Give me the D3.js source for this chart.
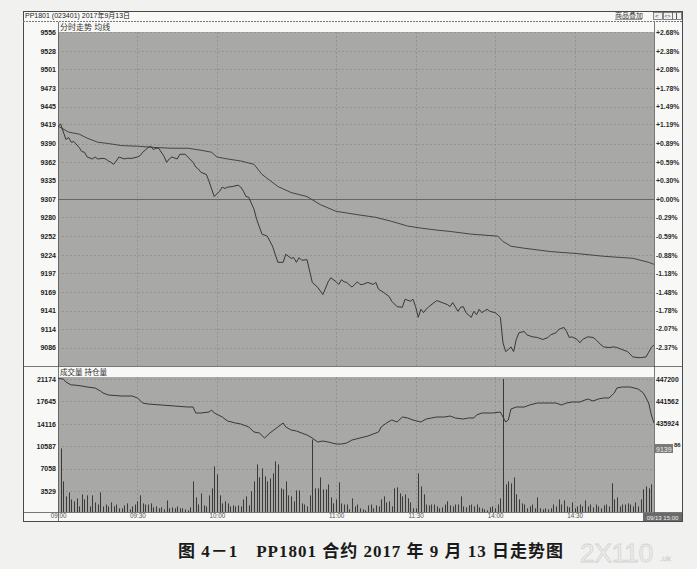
<!DOCTYPE html>
<html><head><meta charset="utf-8">
<script src="https://cdn.jsdelivr.net/npm/d3@7"></script>
<style>body{margin:0;background:#f1f1ef;} svg{display:block}</style>
</head><body><svg id="c" width="697" height="569"></svg>
<script>
// ---------------- DATA ----------------
const headerTitle = "PP1801 (023401) 2017年9月13日";
const priceTicks = [9556, 9528, 9501, 9473, 9445, 9419, 9390, 9362, 9335, 9307, 9280, 9252, 9224, 9197, 9169, 9141, 9114, 9086];
const pctLabels = ["+2.68%","+2.38%","+2.08%","+1.78%","+1.49%","+1.19%","+0.89%","+0.59%","+0.30%","+0.00%","-0.29%","-0.59%","-0.88%","-1.18%","-1.48%","-1.78%","-2.07%","-2.37%"];
const volTicks = [21174, 17645, 14116, 10587, 7058, 3529];
const oiTicks = [447200, 441562, 435924, 430286];
const timeLabels = ["09:00","09:30","10:00","11:00","11:30","14:00","14:30"];
const cursorValue = "9139";

// trading minutes since 09:00 open (sessions 09:00-10:15, 10:30-11:30, 13:30-15:00)
const priceMinute = [0,1,3,4,5,6,8,9,10,11,13,14,15,17,18,19,20,21,22,23,25,26,28,30,31,32,34,35,36,37,38,40,41,42,43,45,46,48,49,51,52,53,54,56,57,58,59,61,62,63,64,66,68,69,70,71,72,74,75,77,79,81,83,85,86,88,89,90,91,92,94,96,98,100,102,103,105,106,107,108,109,111,113,114,115,117,119,120,121,123,125,126,128,130,131,133,134,135,136,137,138,139,140,142,143,145,147,148,149,151,152,153,154,156,157,158,159,160,162,163,165,166,167,168,169,170,171,172,173,174,176,177,179,181,183,185,186,188,189,191,192,193,194,196,197,198,200,202,203,205,206,208,210,211,213,215,217,219,220,222,223,224,225];
const priceValue = [9416,9419,9396,9399,9392,9393,9384,9378,9377,9370,9367,9370,9367,9368,9367,9364,9362,9359,9364,9370,9367,9368,9368,9370,9372,9377,9384,9386,9381,9383,9383,9371,9362,9367,9370,9367,9374,9374,9370,9362,9355,9352,9347,9344,9334,9322,9311,9319,9325,9323,9325,9326,9328,9325,9319,9311,9310,9292,9277,9255,9252,9237,9213,9213,9225,9219,9220,9213,9220,9216,9217,9183,9176,9165,9184,9190,9184,9180,9187,9184,9183,9176,9184,9180,9180,9183,9180,9183,9173,9168,9162,9155,9147,9146,9158,9155,9158,9147,9131,9143,9138,9143,9147,9153,9156,9153,9150,9147,9153,9140,9146,9147,9138,9131,9140,9135,9143,9138,9143,9140,9138,9135,9131,9093,9080,9083,9087,9080,9098,9108,9110,9105,9102,9101,9098,9101,9105,9108,9113,9116,9110,9101,9102,9098,9093,9098,9102,9101,9098,9090,9087,9086,9087,9086,9083,9080,9072,9071,9071,9072,9079,9086,9090];

const avgMinute = [0,4,8,11,15,19,24,30,37,43,49,54,58,60,64,69,74,77,83,88,94,99,105,113,120,126,132,137,143,148,156,166,168,171,176,186,196,206,217,223,225];
const avgValue = [9416,9407,9404,9398,9392,9390,9387,9386,9384,9383,9383,9380,9377,9370,9367,9364,9359,9344,9326,9317,9311,9299,9289,9284,9280,9274,9267,9264,9261,9259,9255,9252,9244,9237,9234,9229,9226,9222,9219,9213,9210];

// volume per minute, minutes 1..225
const volume = [10240,5040,2680,3300,2200,1900,2360,1100,3000,2200,2840,1100,2840,1730,1400,3300,1100,1400,1100,1730,1100,1400,800,800,1260,1575,630,1100,1400,1900,2840,1575,1400,1400,1575,950,1100,800,950,630,2050,800,950,800,1100,800,800,630,470,950,5040,2520,1400,3150,1260,1100,2840,3940,7400,6140,2840,1575,1900,1575,1100,1260,1100,1260,1100,2200,2680,1260,3470,5040,7720,5670,7090,5830,5040,5510,6300,8190,7720,3940,3780,5040,2840,2680,1900,3620,3620,1575,1400,1100,2840,11650,3940,3940,5670,3780,3780,4570,2520,1575,2200,4880,1575,1400,1400,630,2360,
1100,1400,800,630,470,1260,1400,800,1260,1100,2200,2680,1730,1900,1100,3940,4100,3150,2680,3000,2360,1730,800,800,6300,4250,3000,1400,1260,1400,1400,1100,800,950,1400,1900,1260,1100,1400,1400,2680,1100,950,1260,1400,1100,1400,950,800,630,470,950,1100,800,1400,2360,21174,4570,5040,4730,5670,3000,2200,1575,1400,800,1100,1400,800,2520,800,630,800,630,800,1400,1100,2200,1400,2050,1100,950,1730,800,1100,1400,1100,2050,1100,1400,950,1400,1100,800,1260,1400,1100,4730,2200,2520,1100,1400,1400,1575,1400,1100,1730,1100,2200,3780,4250,3940,4570,5670];

const oiMinute = [0,2,3,5,6,9,11,14,16,17,19,24,28,30,32,34,39,44,49,51,52,54,57,58,59,62,64,67,69,72,74,76,78,80,83,85,86,88,90,92,94,96,98,100,102,105,107,109,111,114,117,119,121,122,124,126,128,130,132,134,137,139,141,143,146,148,150,153,155,157,158,160,164,167,168,169,170,171,173,176,178,181,186,188,190,192,194,197,200,202,204,206,208,210,211,213,216,219,221,223,224,225];
const oiValue = [447300,447200,446445,445690,445690,445438,445186,444935,444180,443676,443173,442921,442921,442418,441159,440908,440656,440404,440152,440152,438642,438642,438894,439397,438642,437635,436629,436125,435874,435118,433860,433608,432350,433608,435118,436125,435118,434363,434112,433608,433105,432350,431343,431594,431343,430839,430839,431091,431846,432350,432853,433356,433860,435118,436125,436880,436377,437635,437384,436880,436377,437132,437384,437635,437635,437887,437384,437132,437384,437384,438139,438642,438642,438894,437635,436377,436880,439649,440152,440152,440656,441159,441159,441159,440656,441159,441411,441411,442166,441662,442166,442418,442418,443676,444935,445186,445186,444683,443676,441159,438139,436125];

// ---------------- LAYOUT ----------------
const svg = d3.select("#c");
const L = 58, R = 654;
const pTop = 32, pBot = 366, vTop = 377, vBot = 512;
const FX0 = 23, FX1 = 682, FY0 = 11, FY1 = 521;
const lineCol = "#383838", gridCol = "#8a8a8a", panelCol = "#a8a8a6";
const font = "'Liberation Sans', Arial, 'Noto Sans CJK SC', sans-serif";

const tradeMin = t => { const [h, m] = t.split(":").map(Number); const c = h * 60 + m;
  if (c <= 615) return c - 540; if (c <= 690) return 75 + (c - 630); return 135 + (c - 810); };

const x = d3.scaleLinear().domain([0, 225]).range([L, R]);
const yP = d3.scaleLinear().domain([9058.5, 9556.2]).range([pBot, pTop]);
const yV = d3.scaleLinear().domain([0, 21174]).range([513.4, 379]);
const yOI = d3.scaleLinear().domain([447200 - 6 * 5638, 447200]).range([513.4, 379]);

// frame
svg.append("rect").attr("x", FX0 + .5).attr("y", FY0 + .5).attr("width", FX1 - FX0).attr("height", FY1 - FY0)
  .attr("fill", "#f8f8f6").attr("stroke", "#4a4a4a");
svg.append("line").attr("x1", FX0).attr("x2", FX1).attr("y1", 21.5).attr("y2", 21.5)
  .attr("stroke", "#777").attr("stroke-dasharray", "2,1");
svg.append("text").attr("x", 25).attr("y", 18).text(headerTitle)
  .attr("font-family", font).attr("font-size", 7).attr("fill", "#222");
svg.append("text").attr("x", 615).attr("y", 18).text("商品叠加")
  .attr("font-family", font).attr("font-size", 7).attr("fill", "#333");
svg.append("line").attr("x1", 615).attr("x2", 642).attr("y1", 19.5).attr("y2", 19.5).attr("stroke", "#555").attr("stroke-width", .6);
[653, 663, 672].forEach(bx => {
  svg.append("rect").attr("x", bx + .5).attr("y", 12.5).attr("width", 9).attr("height", 7)
    .attr("fill", "#f0f0f0").attr("stroke", "#555").attr("stroke-width", .7);
});
svg.append("text").attr("x", 655).attr("y", 18.3).text("<").attr("font-size", 6).attr("font-family", font).attr("fill", "#333");
svg.append("text").attr("x", 664.5).attr("y", 18.3).text("<>").attr("font-size", 5).attr("font-family", font).attr("fill", "#333");
svg.append("line").attr("x1", 676.5).attr("x2", 676.5).attr("y1", 13).attr("y2", 19).attr("stroke", "#333").attr("stroke-width", .8);

// panels
svg.append("rect").attr("x", L).attr("y", pTop).attr("width", R - L).attr("height", pBot - pTop).attr("fill", panelCol);
svg.append("rect").attr("x", L).attr("y", vTop).attr("width", R - L).attr("height", vBot - vTop).attr("fill", panelCol);
[[L + .5, 22, L + .5, FY1], [R + .5, 22, R + .5, FY1], [FX0, pBot + .5, FX1, pBot + .5], [FX0, vBot + .5, FX1, vBot + .5]]
  .forEach(d => svg.append("line").attr("x1", d[0]).attr("y1", d[1]).attr("x2", d[2]).attr("y2", d[3]).attr("stroke", "#555").attr("stroke-width", .8));

svg.append("text").attr("x", 60).attr("y", 30).text("分时走势   均线").attr("font-family", font).attr("font-size", 8).attr("fill", "#333");
svg.append("text").attr("x", 60).attr("y", 375).text("成交量   持仓量").attr("font-family", font).attr("font-size", 7.5).attr("fill", "#333");

// grids
const g = svg.append("g");
priceTicks.forEach(t => {
  const yy = Math.round(yP(t)) + .5;
  g.append("line").attr("x1", L).attr("x2", R).attr("y1", yy).attr("y2", yy)
    .attr("stroke", t === 9307 ? "#666" : gridCol).attr("stroke-width", t === 9307 ? 1 : .7)
    .attr("stroke-dasharray", t === 9307 ? null : "2,2");
});
volTicks.forEach(t => {
  const yy = Math.round(yV(t)) + .5;
  g.append("line").attr("x1", L).attr("x2", R).attr("y1", yy).attr("y2", yy)
    .attr("stroke", gridCol).attr("stroke-width", .7).attr("stroke-dasharray", "2,2");
});
timeLabels.slice(1).forEach(t => {
  const xx = Math.round(x(tradeMin(t))) + .5;
  [[pTop, pBot], [vTop, vBot]].forEach(r => g.append("line").attr("x1", xx).attr("x2", xx).attr("y1", r[0]).attr("y2", r[1])
    .attr("stroke", gridCol).attr("stroke-width", .7).attr("stroke-dasharray", "2,2"));
});

const defs = svg.append("defs");
defs.append("clipPath").attr("id", "cp").append("rect").attr("x", L).attr("y", pTop).attr("width", R - L).attr("height", pBot - pTop);
defs.append("clipPath").attr("id", "cv").append("rect").attr("x", L).attr("y", vTop).attr("width", R - L).attr("height", vBot - vTop);

const lineGen = (xs, ys, sy) => d3.line().x((d, i) => x(xs[i])).y((d, i) => sy(ys[i]))(xs);
svg.append("path").attr("clip-path", "url(#cp)").attr("d", lineGen(avgMinute, avgValue, yP))
  .attr("fill", "none").attr("stroke", "#454545").attr("stroke-width", 1);
svg.append("path").attr("clip-path", "url(#cp)").attr("d", lineGen(priceMinute, priceValue, yP))
  .attr("fill", "none").attr("stroke", lineCol).attr("stroke-width", 1);

svg.append("g").attr("clip-path", "url(#cv)").selectAll("line").data(volume).join("line")
  .attr("x1", (d, i) => Math.round(x(i + 1)) + .5).attr("x2", (d, i) => Math.round(x(i + 1)) + .5)
  .attr("y1", yV(0)).attr("y2", d => yV(d)).attr("stroke", "#3a3a3a").attr("stroke-width", 1);
svg.append("path").attr("clip-path", "url(#cv)").attr("d", lineGen(oiMinute, oiValue, yOI))
  .attr("fill", "none").attr("stroke", lineCol).attr("stroke-width", 1);

function styleAxis(sel, size, weight, col) {
  sel.select(".domain").remove();
  sel.selectAll("text").attr("font-family", font).attr("font-size", size).attr("font-weight", weight).attr("fill", col);
}
svg.append("g").attr("transform", `translate(${L},0)`)
  .call(d3.axisLeft(yP).tickValues(priceTicks).tickSize(0).tickPadding(2).tickFormat(d3.format("d")))
  .call(s => styleAxis(s, 7, "bold", "#222"));
svg.append("g").attr("transform", `translate(${R},0)`)
  .call(d3.axisRight(yP).tickValues(priceTicks).tickSize(0).tickPadding(2).tickFormat((d, i) => pctLabels[i]))
  .call(s => styleAxis(s, 6.8, "bold", "#2a2a2a"));
svg.append("g").attr("transform", `translate(${L},0)`)
  .call(d3.axisLeft(yV).tickValues(volTicks).tickSize(0).tickPadding(2).tickFormat(d3.format("d")))
  .call(s => styleAxis(s, 7, "bold", "#222"));
// OI axis: the last label is mostly hidden behind the cursor box; only its tail shows
const oiAxis = svg.append("g").attr("transform", `translate(${R},0)`)
  .call(d3.axisRight(yOI).tickValues(oiTicks).tickSize(0).tickPadding(2)
    .tickFormat((d, i) => i === oiTicks.length - 1 ? String(d).slice(-2) : String(d)))
  .call(s => styleAxis(s, 6.8, "bold", "#222"));
oiAxis.selectAll(".tick").filter((d, i) => i === oiTicks.length - 1).select("text")
  .attr("x", 20).attr("dy", "0.05em").attr("font-size", 6);
svg.append("rect").attr("x", 655).attr("y", 444).attr("width", 18).attr("height", 9).attr("fill", "#7a7a7a");
svg.append("text").attr("x", 656).attr("y", 451.5).text(cursorValue).attr("font-family", font).attr("font-size", 7).attr("fill", "#eee");

svg.append("g").attr("transform", `translate(0,${vBot})`)
  .call(d3.axisBottom(x).tickValues(timeLabels.map(tradeMin)).tickSize(0).tickPadding(1.5).tickFormat((d, i) => timeLabels[i]))
  .call(s => styleAxis(s, 6.3, "normal", "#555"));

svg.append("rect").attr("x", 643).attr("y", 513).attr("width", 39).attr("height", 8).attr("fill", "#6a6a6a");
svg.append("text").attr("x", 662.5).attr("y", 519.5).attr("text-anchor", "middle").text("09/13 15:00")
  .attr("font-family", font).attr("font-size", 6).attr("fill", "#eee");

// caption
svg.append("text").attr("x", 178).attr("y", 557).attr("textLength", 385).attr("lengthAdjust", "spacing")
  .text("图 4－1　PP1801 合约 2017 年 9 月 13 日走势图")
  .attr("font-family", "'Liberation Serif', 'Noto Sans CJK SC', serif").attr("font-weight", "bold")
  .attr("font-size", 17).attr("fill", "#1a1a1a");
// watermark
svg.append("text").attr("x", 580).attr("y", 562).text("2X110")
  .attr("font-family", font).attr("font-size", 26).attr("fill", "none").attr("stroke", "#d2d2d2").attr("stroke-width", .8);
svg.append("text").attr("x", 660).attr("y", 561).text(".uk")
  .attr("font-family", font).attr("font-size", 8).attr("fill", "none").attr("stroke", "#d2d2d2").attr("stroke-width", .5);
</script></body></html>
